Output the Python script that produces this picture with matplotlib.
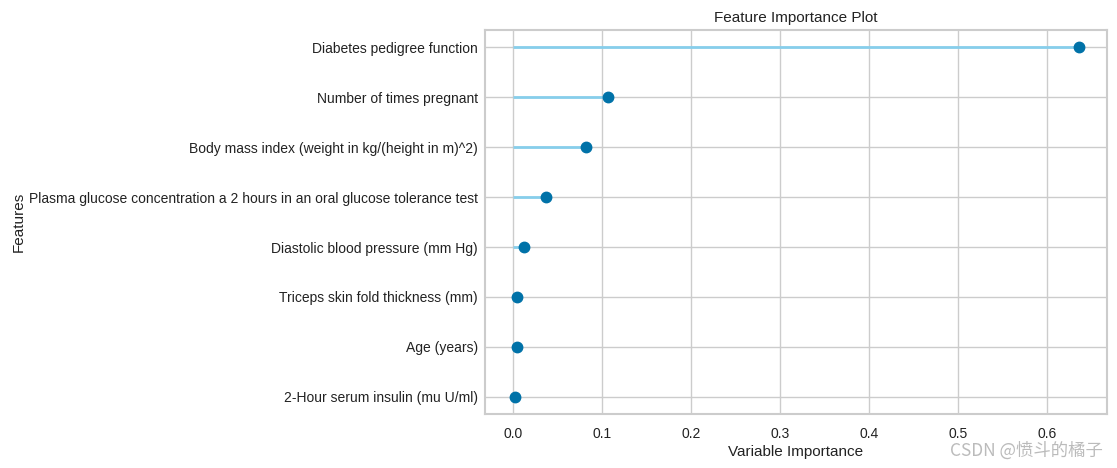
import matplotlib
matplotlib.use("Agg")
import matplotlib.pyplot as plt
import numpy as np

# data (bottom to top)
features = [
    "2-Hour serum insulin (mu U/ml)",
    "Age (years)",
    "Triceps skin fold thickness (mm)",
    "Diastolic blood pressure (mm Hg)",
    "Plasma glucose concentration a 2 hours in an oral glucose tolerance test",
    "Body mass index (weight in kg/(height in m)^2)",
    "Number of times pregnant",
    "Diabetes pedigree function",
]
importance = [0.002, 0.0045, 0.0045, 0.012, 0.037, 0.082, 0.107, 0.636]

plt.rcParams['font.family'] = ['Liberation Sans', 'DejaVu Sans']

fig = plt.figure(figsize=(11.17, 4.68), dpi=100)
ax = fig.add_axes([0.434, 0.115, 0.557, 0.821])

pos = np.arange(len(features))
ax.hlines(y=pos, xmin=0, xmax=importance, color='#87ceeb', linewidth=2, zorder=2)
ax.plot(importance, pos, 'o', color='#0072a8', markersize=7.5, zorder=3)

ax.set_yticks(pos)
ax.set_yticklabels(features)
ax.set_xticks([0.0, 0.1, 0.2, 0.3, 0.4, 0.5, 0.6])
ax.tick_params(length=0, labelsize=10, colors='#222222')
ax.tick_params(axis='y', pad=5)
ax.tick_params(axis='x', pad=9)

ax.grid(True, color='#cccccc', linewidth=1)
ax.set_axisbelow(True)
for s in ax.spines.values():
    s.set_color('#cccccc')
    s.set_linewidth(1.5)

ax.set_title('Feature Importance Plot', fontsize=11, color='#222222')
ax.set_xlabel('Variable Importance', fontsize=11, color='#222222', labelpad=3)
ax.set_ylabel('Features', fontsize=11, color='#222222')
ax.yaxis.set_label_coords(-0.738, 0.5)

fig.text(0.987, 0.018, 'CSDN @愤斗的橘子', ha='right', va='bottom', fontsize=12.5,
         color='#bbbbbb', family=['Noto Sans CJK SC', 'DejaVu Sans'])

fig.savefig('out.png', dpi=100)
